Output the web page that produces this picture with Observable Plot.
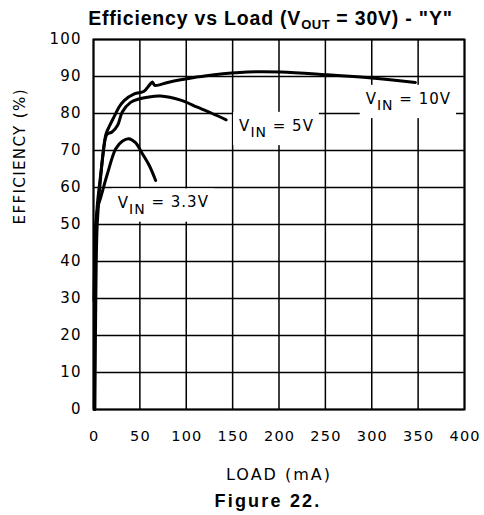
<!DOCTYPE html>
<html>
<head>
<meta charset="utf-8">
<script src="https://cdn.jsdelivr.net/npm/d3@7"></script>
<script src="https://cdn.jsdelivr.net/npm/@observablehq/plot@0.6"></script>
<style>
  html, body { margin: 0; padding: 0; background: white; }
  #wrap { width: 484px; position: relative; }
  #title { height: 30px; box-sizing: border-box; padding-top: 8.5px; padding-left: 57px; text-align: center;
           font: bold 19.5px/1 "Liberation Sans", Arial, sans-serif; letter-spacing: 0.8px; white-space: nowrap; color: black; }
  #title .sub { font-size: 13px; position: relative; top: 4px; letter-spacing: 0.5px; }
  #caption { height: 29px; box-sizing: border-box; padding-top: 5.5px; padding-left: 52px; text-align: center;
             font: bold 18px/1 "Liberation Sans", Arial, sans-serif; letter-spacing: 2.2px; color: black; }
  svg { display: block; }
</style>
</head>
<body>
<div id="wrap">
  <div id="title">Efficiency vs Load (V<span class="sub">OUT</span> = 30V) - "Y"</div>
  <div id="chart"></div>
  <div id="caption">Figure 22.</div>
</div>
<script>
// Tick labels
const xTicks = [0, 50, 100, 150, 200, 250, 300, 350, 400];
const yTicks = [0, 10, 20, 30, 40, 50, 60, 70, 80, 90, 100];

// VIN = 3.3V
const load33 = [1, 1.5, 2.5, 5, 8, 15, 24, 31, 38, 45, 53, 60, 67];
const eff33  = [0, 30, 50, 55, 57.5, 63.7, 70.5, 72.5, 73.2, 72.2, 69, 66, 61.9];

// VIN = 5V
const load5 = [1.5, 2.5, 4, 8, 13, 15, 20, 26, 31, 40, 50, 58, 72, 94, 112, 128, 143];
const eff5  = [0, 30, 50, 63.7, 73.5, 74.5, 75, 76.8, 80.4, 83, 84, 84.4, 84.7, 83.6, 81.7, 80, 78.3];

// VIN = 10V
const load10 = [0.5, 2, 4, 8, 12, 13.5, 17, 22, 27, 33, 44, 54.5, 60, 63.5, 66, 80, 94, 110, 130, 166, 202, 250, 300, 347];
const eff10  = [29.5, 45, 55, 64, 72.5, 74.5, 76.5, 79, 81.5, 83.5, 85.3, 86, 87.6, 88.5, 87.6, 88.4, 89.1, 89.8, 90.5, 91.2, 91.2, 90.5, 89.6, 88.4];

// Curve labels
const labelText = ["VIN = 10V", "VIN = 5V", "VIN = 3.3V"];
const labelLoad = [293.5, 157, 26.2];
const labelEff  = [83.8, 76.5, 55.8];

const series = [
  {name: "3.3V", load: load33, eff: eff33},
  {name: "5V", load: load5, eff: eff5},
  {name: "10V", load: load10, eff: eff10}
];
const data = series.flatMap(s => s.load.map((l, i) => ({series: s.name, load: l, eff: s.eff[i]})));
const labels = labelText.map((t, i) => ({text: t, load: labelLoad[i], eff: labelEff[i]}));

const chart = Plot.plot({
  width: 484,
  height: 456,
  marginTop: 9,
  marginBottom: 77,
  marginLeft: 93,
  marginRight: 20,
  x: {domain: [0, 400]},
  y: {domain: [0, 100]},
  style: {fontFamily: "DejaVu Sans", fontSize: "14.5px", letterSpacing: "1.2px", color: "black", background: "white", overflow: "visible"},
  marks: [
    Plot.gridX(xTicks, {stroke: "black", strokeOpacity: 1, strokeWidth: 1.5}),
    Plot.gridY(yTicks, {stroke: "black", strokeOpacity: 1, strokeWidth: 1.5}),
    Plot.frame({stroke: "black", strokeWidth: 2}),
    Plot.axisX(xTicks, {tickSize: 0, tickPadding: 21, label: null, fontSize: 14.5, dx: 0.6}),
    Plot.axisY(yTicks, {tickSize: 0, tickPadding: 11.8, label: null, fontSize: 15}),
    Plot.line(data, {x: "load", y: "eff", z: "series", stroke: "black", strokeWidth: 3, curve: "catmull-rom"}),
    Plot.text(labels, {x: "load", y: "eff", text: "text", textAnchor: "start", fill: "black", fontSize: 15}),
    Plot.text(["LOAD (mA)"], {text: d => d, frameAnchor: "bottom", dy: 70, fontSize: 16}),
    Plot.text(["EFFICIENCY (%)"], {text: d => d, frameAnchor: "left", dx: -73, rotate: -90, fontSize: 15})
  ]
});
document.getElementById("chart").appendChild(chart);

const svg = d3.select(chart);
// letter spacing per label
svg.selectAll("text").filter(function () { return this.textContent === "LOAD (mA)"; }).style("letter-spacing", "2px");
svg.selectAll("text").filter(function () { return this.textContent === "EFFICIENCY (%)"; }).style("letter-spacing", "1.4px");

// Subscripts for "IN" and white boxes behind the curve labels
svg.selectAll("text").filter(function () {
  return this.childElementCount === 0 && this.textContent.startsWith("VIN");
}).each(function () {
  const rest = this.textContent.slice(3);
  const t = d3.select(this);
  t.style("letter-spacing", "1px");
  t.text(null);
  t.append("tspan").text("V");
  t.append("tspan").attr("dy", "0.42em").attr("font-size", "14px").text("IN");
  t.append("tspan").attr("dy", "-0.42em").text(rest);
  const b = this.getBBox();
  d3.select(this.parentNode).insert("rect", function () { return this.firstChild; })
    .attr("x", b.x - 6).attr("y", b.y - 5).attr("width", b.width + 11).attr("height", b.height + 10)
    .attr("fill", "white")
    .attr("transform", this.getAttribute("transform"));
});
</script>
</body>
</html>
